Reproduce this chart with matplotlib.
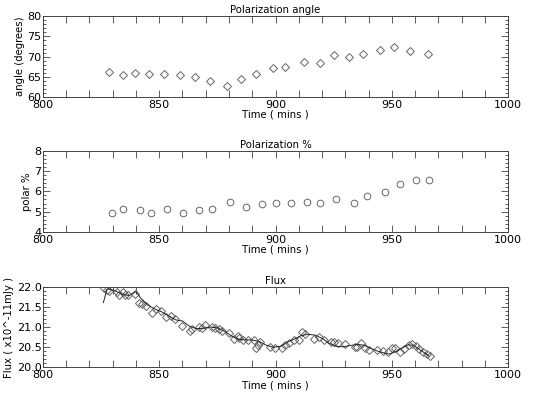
import numpy as np
import matplotlib
matplotlib.use("Agg")
import matplotlib.pyplot as plt
from matplotlib.ticker import MultipleLocator

# polarization angle
ang_t = [828.4, 834.6, 839.5, 845.7, 852.0, 858.9, 865.2, 872.0, 879.0, 885.2, 891.4,
         899.0, 903.9, 912.2, 919.1, 925.3, 931.6, 937.8, 944.7, 951.0, 957.9, 965.5]
ang_v = [66.3, 65.4, 66.0, 65.7, 65.8, 65.5, 65.0, 63.9, 62.8, 64.6, 65.6,
         67.1, 67.5, 68.7, 68.4, 70.3, 69.9, 70.6, 71.7, 72.3, 71.5, 70.6]

# polarization %
pol_t = [829.7, 834.6, 841.7, 846.4, 853.3, 860.2, 867.2, 872.7, 880.3, 887.2, 894.3,
         900.4, 906.8, 913.6, 919.1, 926.1, 933.8, 939.2, 947.0, 953.4, 960.2, 965.9]
pol_v = [4.94, 5.14, 5.07, 4.92, 5.12, 4.95, 5.07, 5.15, 5.47, 5.25, 5.38,
         5.42, 5.42, 5.47, 5.45, 5.63, 5.45, 5.78, 5.99, 6.37, 6.58, 6.58]

# flux points
flux_t = [826.4, 827.4, 828.6, 832.0, 832.6, 834.3, 835.1, 836.5, 839.4, 841.5, 842.8,
          844.3, 846.7, 848.6, 850.7, 853.0, 855.0, 856.6, 859.8, 863.1, 864.2, 867.2,
          868.5, 869.5, 872.6, 874.0, 875.6, 877.0, 880.0, 882.0, 883.8, 884.5, 886.2,
          888.2, 890.9, 891.4, 892.5, 893.5, 897.8, 899.6, 902.6, 904.2, 905.9, 907.9,
          910.2, 911.5, 912.8, 916.5, 918.5, 920.8, 923.7, 925.3, 927.0, 930.0, 934.1,
          935.2, 936.8, 938.4, 940.1, 943.4, 946.3, 948.4, 949.9, 951.4, 953.6, 955.3,
          957.5, 958.8, 960.3, 961.6, 963.4, 965.1, 966.2]
flux_v = [21.96, 21.93, 21.90, 21.88, 21.79, 21.86, 21.79, 21.79, 21.83, 21.59, 21.58,
          21.52, 21.36, 21.46, 21.41, 21.26, 21.28, 21.20, 21.02, 20.91, 20.95, 21.01,
          20.98, 21.05, 20.99, 20.98, 20.94, 20.90, 20.86, 20.71, 20.77, 20.74, 20.69,
          20.68, 20.68, 20.47, 20.55, 20.62, 20.51, 20.47, 20.47, 20.55, 20.60, 20.69,
          20.68, 20.87, 20.84, 20.71, 20.76, 20.69, 20.64, 20.62, 20.60, 20.59, 20.51,
          20.50, 20.61, 20.47, 20.44, 20.43, 20.40, 20.37, 20.47, 20.48, 20.38, 20.45,
          20.56, 20.58, 20.53, 20.45, 20.37, 20.34, 20.27]

# smooth fit line
fit_t = [826.0, 827.5, 828, 831, 834, 837, 840, 842, 845, 848, 851, 854, 857, 860, 863,
         866, 869, 872, 875, 878, 881, 884, 887, 890, 893, 896, 899, 902, 905, 908,
         911, 914, 917, 920, 923, 926, 929, 932, 935, 938, 941, 944, 947, 949, 952,
         955, 957, 959, 961, 963, 966]
fit_v = [21.61, 21.93, 21.95, 21.90, 21.82, 21.78, 21.88, 21.72, 21.55, 21.45, 21.38,
         21.28, 21.18, 21.15, 21.02, 20.96, 20.97, 21.00, 20.98, 20.90, 20.78, 20.70,
         20.68, 20.68, 20.64, 20.55, 20.50, 20.52, 20.62, 20.70, 20.79, 20.82, 20.80,
         20.72, 20.60, 20.52, 20.51, 20.54, 20.57, 20.55, 20.47, 20.40, 20.35, 20.33,
         20.40, 20.50, 20.56, 20.55, 20.48, 20.40, 20.28]

mk = "#666666"
fig = plt.figure(figsize=(5.5, 3.95), dpi=100)
fig.patch.set_facecolor("white")

boxes = [[0.078, 0.754, 0.846, 0.205],
         [0.078, 0.413, 0.846, 0.205],
         [0.078, 0.070, 0.846, 0.204]]
titles = ["Polarization angle", "Polarization %", "Flux"]
ylabels = ["angle (degrees)", "polar %", "Flux ( x10^-11mJy )"]
ylims = [(60, 80), (4, 8), (20.0, 22.0)]
ymaj = [5, 1, 0.5]
ymin = [1, 0.2, 0.1]

axes = []
for i in range(3):
    ax = fig.add_axes(boxes[i])
    ax.set_xlim(800, 1000)
    ax.set_ylim(*ylims[i])
    ax.xaxis.set_major_locator(MultipleLocator(50))
    ax.xaxis.set_minor_locator(MultipleLocator(10))
    ax.yaxis.set_major_locator(MultipleLocator(ymaj[i]))
    ax.yaxis.set_minor_locator(MultipleLocator(ymin[i]))
    ax.tick_params(which="both", direction="in", top=True, right=True,
                   color="#444444", labelsize=8, width=0.6)
    ax.tick_params(axis="x", pad=2)
    ax.tick_params(axis="y", pad=1)
    ax.tick_params(which="major", length=5)
    ax.tick_params(which="minor", length=2.5)
    ax.tick_params(axis="x", which="minor", length=5)
    for s in ax.spines.values():
        s.set_color("#444444")
        s.set_linewidth(0.7)
    ax.set_title(titles[i], fontsize=7.3, pad=2)
    ax.set_xlabel("Time ( mins )", fontsize=7.3, labelpad=0)
    ax.set_ylabel(ylabels[i], fontsize=7.3, labelpad=2)
    axes.append(ax)

axes[0].plot(ang_t, ang_v, "D", ms=4, mfc="none", mec=mk, mew=0.7)
axes[1].plot(pol_t, pol_v, "o", ms=4.8, mfc="none", mec=mk, mew=0.7)
axes[2].plot(flux_t, flux_v, "D", ms=4, mfc="none", mec=mk, mew=0.7)
axes[2].plot(fit_t, fit_v, "-", color="#222222", lw=0.7)
axes[2].yaxis.set_major_formatter(matplotlib.ticker.FormatStrFormatter("%.1f"))

fig.savefig("out.png", dpi=100)
